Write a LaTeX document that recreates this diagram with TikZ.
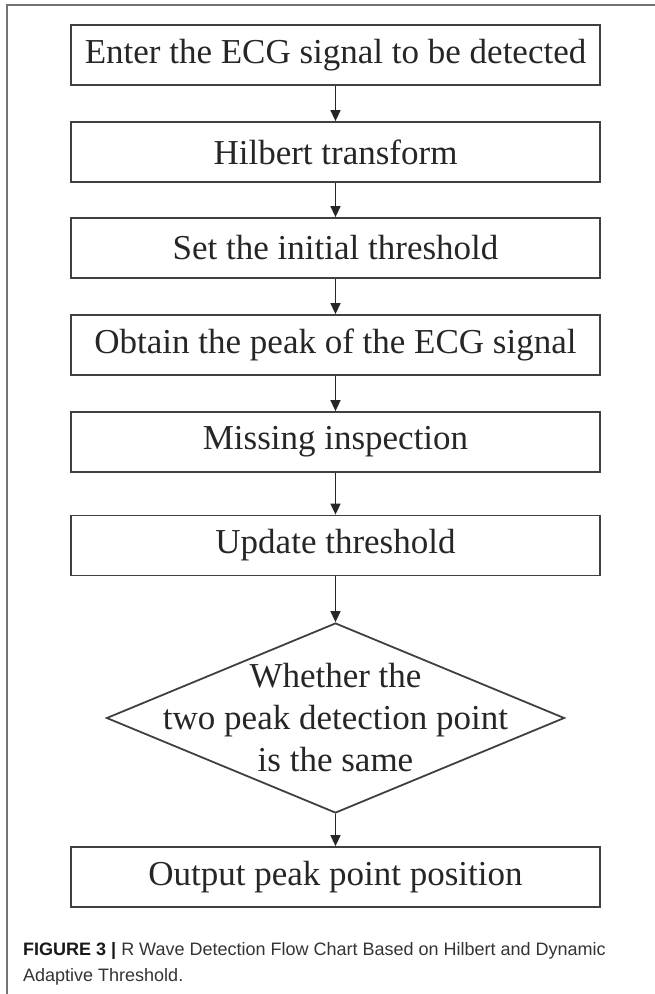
\documentclass[tikz,border=0pt]{standalone}
\usepackage{fontspec}
\setmainfont{Liberation Serif}
\newfontfamily\capfont{Liberation Sans}
\usetikzlibrary{arrows.meta,shapes.geometric}
\tikzset{
	stepbox/.style={draw=black!75, line width=1.8pt, minimum width=529pt, minimum height=60pt, inner sep=0pt, text=black!85, font=\fontsize{35}{42}\selectfont},
	decision/.style={draw=black!75, line width=1.8pt, shape=diamond, minimum width=458pt, minimum height=190pt, inner sep=0pt},
	flow/.style={draw=black!85, line width=1.5pt, -{Triangle[length=11pt,width=10pt]}},
}

\begin{document}
\begin{tikzpicture}[x=1pt, y=1pt]
		%%%%% START %%%%%
		\useasboundingbox (0, 0) rectangle (655, -994);
		
		% frame of the figure
		\draw[line width=1.5pt, color=black!55] (655, -5) -- (7, -5) -- (7, -994);
		
		\node[stepbox] (enter) at (335.5, -55) {Enter the ECG signal to be detected};
		\node[stepbox] (hilbert) at (335.5, -152) {Hilbert transform};
		\node[stepbox] (init) at (335.5, -248) {Set the initial threshold};
		\node[stepbox] (peak) at (335.5, -345) {Obtain the peak of the ECG signal};
		\node[stepbox] (missing) at (335.5, -442) {Missing inspection};
		\node[stepbox] (update) at (335.5, -545.5) {Update threshold};
		
		\node[decision] (same) at (335.5, -718) {};
		\node[align=center, inner sep=0pt, text=black!85, font=\fontsize{35}{42}\selectfont] (sametext) at (same.center) {Whether the\\two peak detection point\\is the same};
		
		\node[stepbox] (output) at (335.5, -877) {Output peak point position};
		
		\draw[flow] (enter) -- (hilbert);
		\draw[flow] (hilbert) -- (init);
		\draw[flow] (init) -- (peak);
		\draw[flow] (peak) -- (missing);
		\draw[flow] (missing) -- (update);
		\draw[flow] (update) -- (same.north);
		\draw[flow] (same.south) -- (output);
		
		% caption
		\node[anchor=west, align=left, inner sep=0pt, text=black!80, font=\capfont\fontsize{18}{26}\selectfont] (caption) at (23, -964) {{\bfseries\color{black!90}FIGURE 3 |} R Wave Detection Flow Chart Based on Hilbert and Dynamic\\Adaptive Threshold.};
		
		%%%%% END %%%%%
	\end{tikzpicture}
\end{document}
